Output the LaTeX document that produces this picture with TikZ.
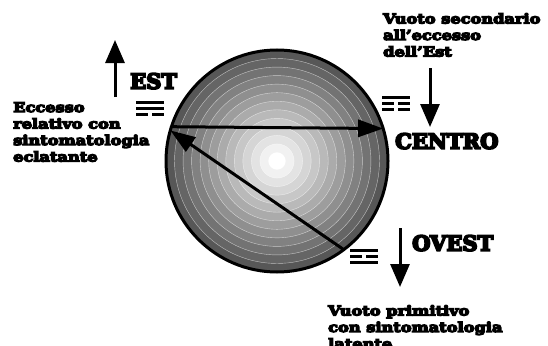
\documentclass[tikz,border=0pt]{standalone}
\usepackage{fontspec}
\setmainfont{DejaVu Serif}
\newfontfamily\grasso{DejaVu Serif}
\newfontfamily\testolargo{DejaVu Serif}[FakeStretch=1.2]
\usetikzlibrary{arrows.meta}
\definecolor{cinchiostro}{HTML}{000000}
\definecolor{csolco}{HTML}{FFFFFF}
\newcommand{\pesante}[1]{\special{pdf:literal direct 2 Tr #1 w}}
\newcommand{\normale}{\special{pdf:literal direct 0 Tr}}
\tikzset{
  freccia/.style={-{Triangle[length=23pt,width=19pt]},draw=cinchiostro,line width=3pt},
  frecciac/.style={-{Triangle[length=25pt,width=17pt]},draw=cinchiostro,line width=3pt},
  etichetta/.style={font=\grasso\bfseries\fontsize{21}{21}\selectfont,inner sep=0pt,anchor=north west,
                    execute at begin node=\pesante{1.8},execute at end node=\normale},
  nota/.style={font=\testolargo\bfseries\fontsize{13.5}{16.5}\selectfont,align=left,
               inner sep=0pt,anchor=north west,
               execute at begin node=\pesante{1.3},execute at end node=\normale},
  sfera/.style={circle,draw=cinchiostro,line width=3pt,minimum size=222pt,inner sep=0pt,outer sep=0pt},
  pics/piena/.style={code={\fill[cinchiostro] (-14,-1.5) rectangle (14,1.5);}},
  pics/rotta/.style={code={\fill[cinchiostro] (-14,-1.5) rectangle (-2,1.5);
                           \fill[cinchiostro] (2,-1.5) rectangle (14,1.5);}},
}
\begin{document}
\begin{tikzpicture}[x=1pt,y=-1pt]
\useasboundingbox (0,0) rectangle (548,345);

% sfera a bande concentriche
\coordinate (c) at (277,161);
\foreach \i in {13,12,...,1}{
  \pgfmathsetmacro\liv{100-(\i-1)*5.5}
  \fill[white!\liv!black] (c) circle ({\i*8.54pt});
  \draw[csolco,line width=0.4pt,opacity=0.6] (c) circle ({\i*8.54pt});
}
\node[sfera] (sfera) at (c) {};

\draw[frecciac] (sfera.162.8) -- (sfera.17.2);
\draw[frecciac] (sfera.-53.9) -- (sfera.164.8);

% testi
\node[etichetta] (est) at (130,73) {EST};
\node[etichetta] (centro) at (395,133) {CENTRO};
\node[etichetta] (ovest) at (412,235) {OVEST};
\node[nota] (eccesso) at (13,102) {Eccesso\\relativo con\\sintomatologia\\eclatante};
\node[nota] (secondario) at (383,13) {Vuoto secondario\\all’eccesso\\dell’Est};
\node[nota] (primitivo) at (328,305) {Vuoto primitivo\\con sintomatologia\\latente};

% frecce verticali
\coordinate (estBase) at (115,97);
\coordinate (estPunta) at (115,40);
\coordinate (centroBase) at (430,68);
\coordinate (centroPunta) at (430,127);
\coordinate (ovestBase) at (400,228);
\coordinate (ovestPunta) at (400,287);
\draw[freccia] (estBase) -- (estPunta);
\draw[freccia] (centroBase) -- (centroPunta);
\draw[freccia] (ovestBase) -- (ovestPunta);

% trigrammi
\pic at (150,102) {piena};
\pic at (150,108) {piena};
\pic at (150,114) {rotta};
\pic at (396,97) {piena};
\pic at (396,103) {rotta};
\pic at (396,109) {rotta};
\pic at (364,250) {piena};
\pic at (364,256) {rotta};
\pic at (364,262) {piena};
\end{tikzpicture}
\end{document}
